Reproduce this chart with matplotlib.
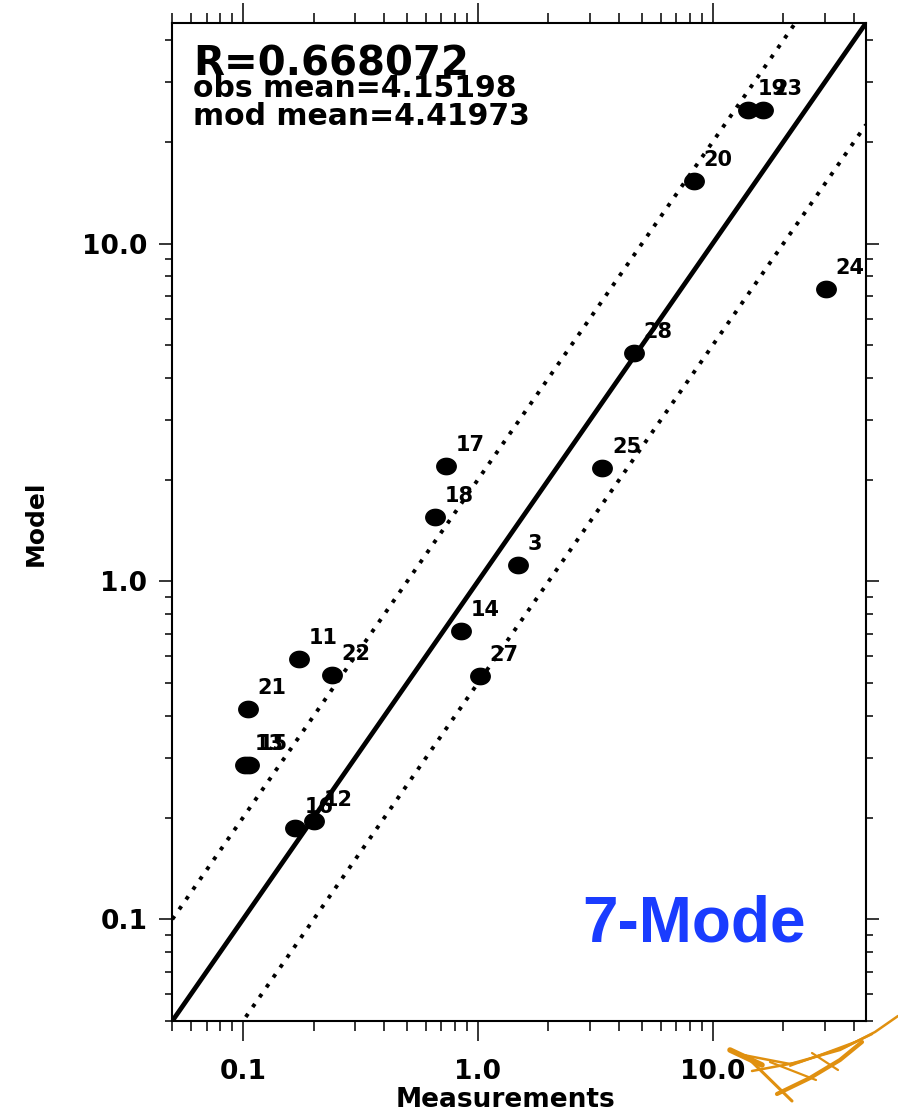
import numpy as np
import matplotlib
matplotlib.use("Agg")
import matplotlib.pyplot as plt
from matplotlib.path import Path
from matplotlib.lines import Line2D
from matplotlib.ticker import LogLocator, FuncFormatter, NullFormatter

# ---------------- data ----------------
site_labels = ['3', '11', '12', '13', '14', '15', '16', '17', '18',
               '19', '20', '21', '22', '23', '24', '25', '27', '28']
measurements = [1.48, 0.173, 0.200, 0.1017, 0.846, 0.1057, 0.166, 0.731, 0.656,
                14.1, 8.32, 0.1047, 0.2386, 16.4, 30.3, 3.376, 1.020, 4.62]
model = [1.117, 0.590, 0.196, 0.287, 0.713, 0.287, 0.186, 2.20, 1.548,
         24.9, 15.3, 0.420, 0.529, 24.9, 7.33, 2.174, 0.5255, 4.75]

axis_range = [0.05, 45.0]
tick_values = [0.1, 1.0, 10.0]
tick_labels = ['0.1', '1.0', '10.0']
factor = 2.0

stats_lines = ['R=0.668072', 'obs mean=4.15198', 'mod mean=4.41973']
run_name = '7-Mode'

# ---------------- figure ----------------
W, H = 898, 1115
fig = plt.figure(figsize=(W / 100, H / 100), dpi=100)
fig.patch.set_facecolor('white')

def fx(px):
    return px / W

def fy(py):
    return 1 - py / H

ax = fig.add_axes([fx(172.3), fy(1021), (866 - 172.3) / W, (1021 - 23) / H])
ax.set_xscale('log')
ax.set_yscale('log')
ax.set_xlim(axis_range)
ax.set_ylim(axis_range)

# reference lines
ref = np.geomspace(axis_range[0], axis_range[1], 200)
ax.plot(ref, ref, color='black', lw=3.4, solid_capstyle='butt', zorder=2)
ax.plot(ref, ref * factor, color='black', lw=2.8, dashes=(1, 2.1),
        dash_capstyle='butt', zorder=2)
ax.plot(ref, ref / factor, color='black', lw=2.8, dashes=(1, 2.1),
        dash_capstyle='butt', zorder=2)

# ellipse marker
t = np.linspace(0, 2 * np.pi, 60)
ell = Path(np.column_stack([np.cos(t), 0.84 * np.sin(t)]), closed=True)
ax.plot(measurements, model, linestyle='none', marker=ell, markersize=14,
        color='black', zorder=3, clip_on=False)

for lab, xv, yv in zip(site_labels, measurements, model):
    ax.annotate(lab, (xv, yv), xytext=(10, 21), textcoords='offset pixels',
                ha='left', va='center', fontsize=15, fontweight='bold',
                family='DejaVu Sans', zorder=4, annotation_clip=False)

# ticks
for side in ax.spines.values():
    side.set_linewidth(1.5)
ax.xaxis.set_major_locator(LogLocator(base=10, numticks=10))
ax.yaxis.set_major_locator(LogLocator(base=10, numticks=10))
ax.xaxis.set_minor_locator(LogLocator(base=10, subs=np.arange(2, 10), numticks=20))
ax.yaxis.set_minor_locator(LogLocator(base=10, subs=np.arange(2, 10), numticks=20))
lab_map = dict(zip(tick_values, tick_labels))

def fmt(v, pos):
    for k, s in lab_map.items():
        if abs(np.log10(v) - np.log10(k)) < 1e-6:
            return s
    return ''

ax.xaxis.set_major_formatter(FuncFormatter(fmt))
ax.yaxis.set_major_formatter(FuncFormatter(fmt))
ax.xaxis.set_minor_formatter(NullFormatter())
ax.yaxis.set_minor_formatter(NullFormatter())
ax.tick_params(axis='both', which='both', direction='out', top=True, right=True,
               labeltop=False, labelright=False, width=1.1, color='black')
ax.tick_params(axis='x', which='major', length=14.4, pad=13)
ax.tick_params(axis='x', which='minor', length=7.2)
ax.tick_params(axis='y', which='major', length=9.4, pad=8.6)
ax.tick_params(axis='y', which='minor', length=4.7)
for lbl in ax.get_xticklabels() + ax.get_yticklabels():
    lbl.set_fontsize(19)
    lbl.set_fontweight('bold')
    lbl.set_family('DejaVu Sans')

# texts
fig.text(fx(193), fy(75), stats_lines[0], fontsize=29, fontweight='bold',
         family='DejaVu Sans', va='baseline', ha='left')
fig.text(fx(193), fy(97), stats_lines[1], fontsize=21.5, fontweight='bold',
         family='DejaVu Sans', va='baseline', ha='left')
fig.text(fx(193), fy(125), stats_lines[2], fontsize=21.5, fontweight='bold',
         family='DejaVu Sans', va='baseline', ha='left')
fig.text(fx(582), fy(941), run_name, fontsize=46, fontweight='bold',
         family='Liberation Sans', color='#1a3cff', va='baseline', ha='left')

fig.text(fx(36), fy(523), 'Model', rotation=90, fontsize=18, fontweight='bold',
         family='DejaVu Sans', ha='center', va='center')
fig.text(fx(505), fy(1107), 'Measurements', fontsize=19, fontweight='bold',
         family='DejaVu Sans', ha='center', va='baseline')

# logo (decorative, figure pixel coordinates)
orange = '#e0900f'
logo_strokes = [
    ([730, 762], [1050, 1065], 4.0),
    ([738, 790, 840, 875, 898], [1054, 1064, 1050, 1032, 1016], 1.8),
    ([752, 800, 845, 872], [1071, 1062, 1047, 1034], 1.8),
    ([777, 810, 840, 862], [1094, 1078, 1060, 1042], 3.0),
    ([746, 792], [1056, 1101], 2.2),
    ([770, 816], [1062, 1080], 1.6),
    ([812, 838], [1053, 1070], 1.6),
    ([790, 860], [1066, 1040], 1.4),
]
for xs, ys, lw in logo_strokes:
    fig.add_artist(Line2D([fx(v) for v in xs], [fy(v) for v in ys],
                          transform=fig.transFigure, color=orange, lw=lw,
                          solid_capstyle='round'))

fig.savefig('out.png', dpi=100)
